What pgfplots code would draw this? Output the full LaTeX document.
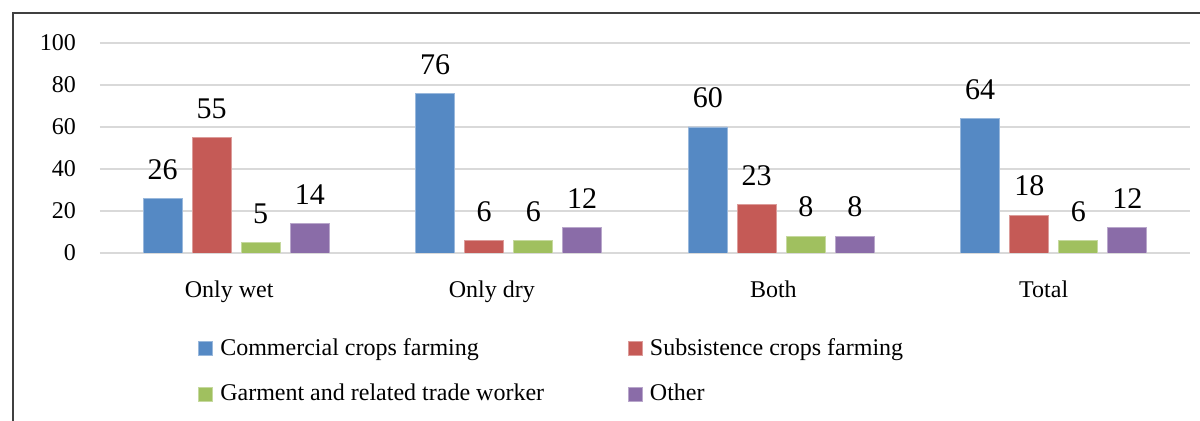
\documentclass[border=0pt]{standalone}
\usepackage{pgfplots}
\pgfplotsset{compat=1.18}
\usepackage{fontspec}
\setmainfont{Liberation Serif}
\definecolor{cBlue}{HTML}{5589C4}
\definecolor{cRed}{HTML}{C55A56}
\definecolor{cGreen}{HTML}{A0C05F}
\definecolor{cPurple}{HTML}{8A6CA8}
\begin{document}
\begin{tikzpicture}
\useasboundingbox (0,0) rectangle (600pt,210.5pt);
\draw[line width=1pt, black!75] (6.5pt,0) -- (6.5pt,204pt) -- (600pt,204pt);
\begin{axis}[
  at={(50pt,84pt)}, anchor=south west,
  scale only axis, width=545pt, height=105pt,
  ymin=0, ymax=100, xmin=-0.5, xmax=3.5,
  ytick={0,20,40,60,80,100},
  xtick={-0.026,0.938,1.971,2.963}, xticklabels={Only wet,Only dry,Both,Total},
  axis line style={draw=none},
  major tick length=0pt,
  ymajorgrids, grid style={line width=0.7pt, black!15},
  /pgf/number format/assume math mode=true,
  yticklabel style={font=\fontsize{12}{14}\selectfont, xshift=-8.5pt},
  xticklabel style={font=\fontsize{12}{14}\selectfont, yshift=-10.5pt},
  ybar=5pt, bar width=19.5pt,
  nodes near coords,
  every node near coord/.append style={font=\fontsize{15}{17}\selectfont, black, yshift=6pt},
  legend columns=2,
  legend cell align=left,
  legend image code/.code={\fill[#1] (0pt,-3.5pt) rectangle (7pt,3.5pt);},
  legend style={draw=none, fill=none, at={(0.09,-0.385)}, anchor=north west,
    font=\fontsize{12}{14}\selectfont, inner sep=0pt,
    /tikz/column 1/.style={column sep=1.5pt},
    /tikz/column 2/.style={column sep=40pt},
    /tikz/column 3/.style={column sep=1.5pt},
    row sep=9pt},
]
\addplot[fill=cBlue, draw=cBlue!60!white] coordinates {(0,26) (1,76) (2,60) (3,64)};
\addplot[fill=cRed, draw=cRed!60!white] coordinates {(0,55) (1,6) (2,23) (3,18)};
\addplot[fill=cGreen, draw=cGreen!60!white] coordinates {(0,5) (1,6) (2,8) (3,6)};
\addplot[fill=cPurple, draw=cPurple!60!white] coordinates {(0,14) (1,12) (2,8) (3,12)};
\legend{Commercial crops farming, Subsistence crops farming, Garment and related trade worker, Other}
\end{axis}
\end{tikzpicture}
\end{document}
